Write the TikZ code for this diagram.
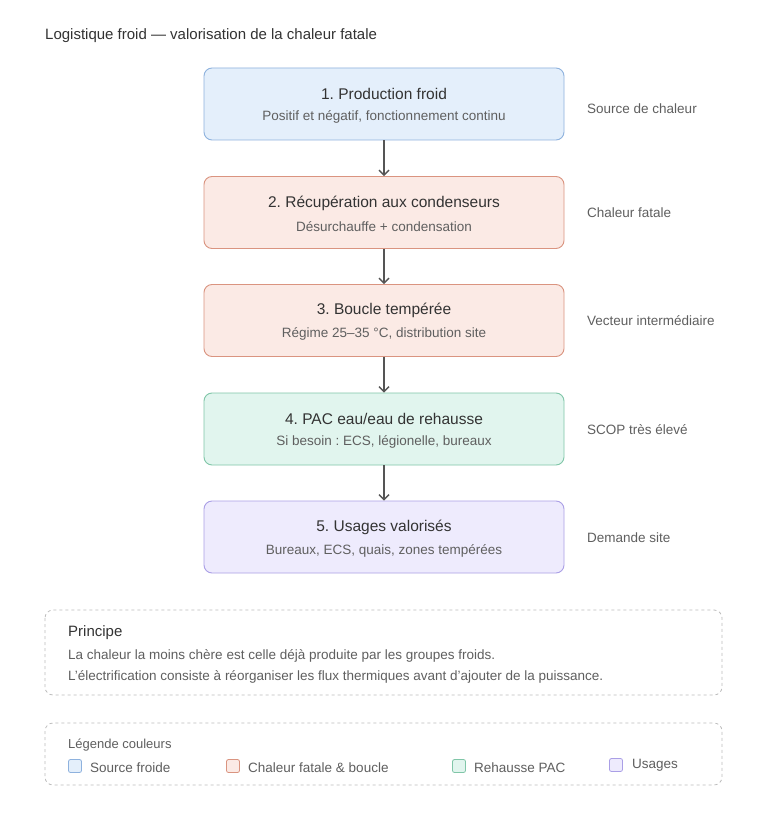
\documentclass[tikz,border=0pt]{standalone}
\usepackage{fontspec}
\setmainfont{Liberation Sans}
\frenchspacing
\usetikzlibrary{arrows.meta}
\definecolor{bluefill}{HTML}{E4EFFB}
\definecolor{blueline}{HTML}{8EB2DE}
\definecolor{redfill}{HTML}{FBEAE5}
\definecolor{redline}{HTML}{DA9480}
\definecolor{greenfill}{HTML}{E1F5EE}
\definecolor{greenline}{HTML}{80C6A8}
\definecolor{violetfill}{HTML}{EEEBFD}
\definecolor{violetline}{HTML}{AA9FE6}
\definecolor{textdark}{HTML}{333333}
\definecolor{textgrey}{HTML}{5F5F5F}
\definecolor{framegrey}{HTML}{BDBDBD}
\definecolor{arrowgrey}{HTML}{555555}
\tikzset{
  stage/.style={draw, line width=0.9pt, rounded corners=8pt, minimum width=360pt,
    minimum height=72pt, align=center, text=textdark, inner sep=0pt},
  side/.style={anchor=west, inner sep=0pt, text=textgrey, font=\fontsize{13.5}{16}\selectfont},
  flow/.style={draw=arrowgrey, line width=1.4pt, -{Straight Barb[length=5pt,width=10pt]}},
  frame/.style={draw=framegrey, dashed, line width=0.8pt, rounded corners=8pt},
  swatch/.style={draw, line width=0.8pt, rounded corners=2pt, minimum size=13pt, inner sep=0pt},
}
\newcommand{\stagetext}[2]{{\fontsize{15.5}{18}\selectfont\rule{0pt}{14pt}#1}\\[9pt]{\fontsize{13.5}{16}\selectfont\color{textgrey}#2}}
\begin{document}
\begin{tikzpicture}[x=1pt,y=-1pt]
  \useasboundingbox[fill=white] (0,0) rectangle (768,813);
  \node[anchor=west, inner sep=0pt, text=textdark, font=\fontsize{15}{18}\selectfont] (title) at (45,36)
    {Logistique froid — valorisation de la chaleur fatale};

  % chaine de valorisation
  \node[stage, fill=bluefill, draw=blueline] (S1) at (384,104)
    {\stagetext{1. Production froid}{Positif et négatif, fonctionnement continu}};
  \node[stage, fill=redfill, draw=redline] (S2) at (384,212.5)
    {\stagetext{2. Récupération aux condenseurs}{Désurchauffe + condensation}};
  \node[stage, fill=redfill, draw=redline] (S3) at (384,320.5)
    {\stagetext{3. Boucle tempérée}{Régime 25–35 °C, distribution site}};
  \node[stage, fill=greenfill, draw=greenline] (S4) at (384,429)
    {\stagetext{4. PAC eau/eau de rehausse}{Si besoin : ECS, légionelle, bureaux}};
  \node[stage, fill=violetfill, draw=violetline] (S5) at (384,537)
    {\stagetext{5. Usages valorisés}{Bureaux, ECS, quais, zones tempérées}};

  \draw[flow] (S1) -- (S2);
  \draw[flow] (S2) -- (S3);
  \draw[flow] (S3) -- (S4);
  \draw[flow] (S4) -- (S5);

  \node[side] (R1) at (587,109) {Source de chaleur};
  \node[side] (R2) at (587,213) {Chaleur fatale};
  \node[side] (R3) at (587,321) {Vecteur intermédiaire};
  \node[side] (R4) at (587,430) {SCOP très élevé};
  \node[side] (R5) at (587,538) {Demande site};

  % principe
  \draw[frame] (45,610) rectangle (722,695);
  \node[anchor=west, inner sep=0pt, text=textdark, font=\fontsize{15}{18}\selectfont] (P0) at (68,633) {Principe};
  \node[side] (P1) at (68,656)
    {La chaleur la moins chère est celle déjà produite par les groupes froids.};
  \node[side] (P2) at (68,677)
    {L'électrification consiste à réorganiser les flux thermiques avant d'ajouter de la puissance.};

  % legende
  \draw[frame] (45,723) rectangle (722,785);
  \node[side, font=\fontsize{13}{15}\selectfont] (L0) at (68,745) {Légende couleurs};
  \node[swatch, fill=bluefill, draw=blueline] (K1) at (75,766) {};
  \node[side] (L1) at (90,768) {Source froide};
  \node[swatch, fill=redfill, draw=redline] (K2) at (233,766) {};
  \node[side] (L2) at (248,768) {Chaleur fatale \& boucle};
  \node[swatch, fill=greenfill, draw=greenline] (K3) at (459,766) {};
  \node[side] (L3) at (474,768) {Rehausse PAC};
  \node[swatch, fill=violetfill, draw=violetline] (K4) at (616,765) {};
  \node[side] (L4) at (632,765) {Usages};
\end{tikzpicture}
\end{document}
